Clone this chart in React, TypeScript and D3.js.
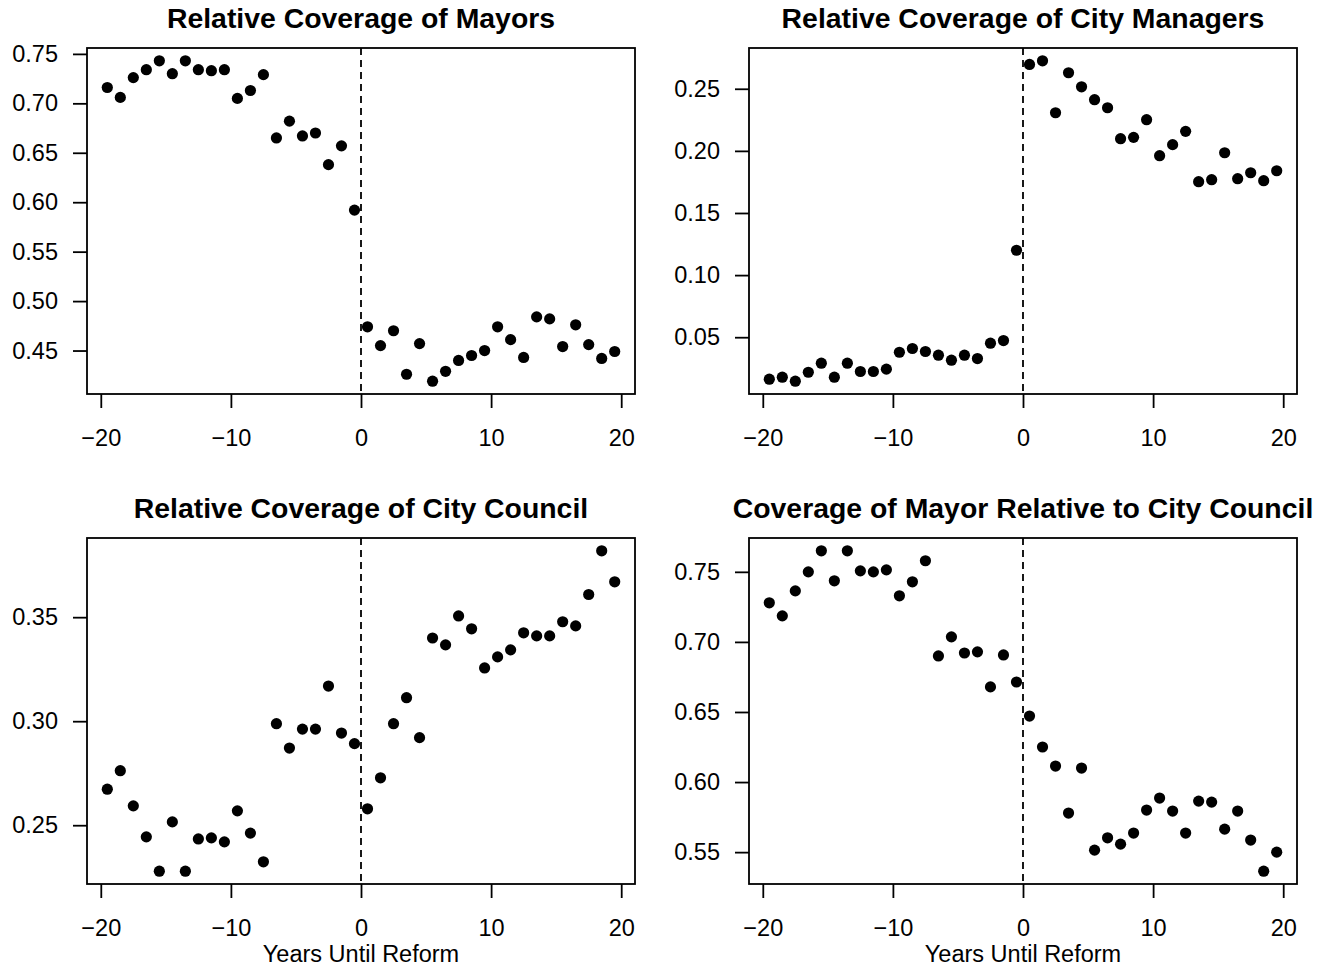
import { useEffect, useRef } from 'react'
import * as d3 from 'd3'

// years relative to the reform, one point per year (mid-year)
const years = [
  -19.5, -18.5, -17.5, -16.5, -15.5, -14.5, -13.5, -12.5, -11.5, -10.5,
  -9.5, -8.5, -7.5, -6.5, -5.5, -4.5, -3.5, -2.5, -1.5, -0.5,
  0.5, 1.5, 2.5, 3.5, 4.5, 5.5, 6.5, 7.5, 8.5, 9.5,
  10.5, 11.5, 12.5, 13.5, 14.5, 15.5, 16.5, 17.5, 18.5, 19.5,
]

const mayorValues = [
  0.716, 0.706, 0.726, 0.734, 0.743, 0.730, 0.743, 0.734, 0.733, 0.734,
  0.705, 0.713, 0.729, 0.665, 0.682, 0.667, 0.670, 0.638, 0.657, 0.592,
  0.474, 0.455, 0.470, 0.426, 0.457, 0.419, 0.429, 0.440, 0.445, 0.450,
  0.474, 0.461, 0.443, 0.484, 0.482, 0.454, 0.476, 0.456, 0.442, 0.449,
]

const managerValues = [
  0.0162, 0.0178, 0.0146, 0.0218, 0.0291, 0.0178, 0.0291, 0.0224, 0.0224, 0.0243,
  0.0379, 0.0409, 0.0385, 0.0355, 0.0315, 0.0355, 0.0328, 0.0452, 0.0473, 0.120,
  0.2696, 0.2725, 0.2307, 0.2629, 0.2516, 0.2412, 0.2347, 0.2098, 0.2109, 0.2251,
  0.1961, 0.2050, 0.2157, 0.1752, 0.1768, 0.1985, 0.1776, 0.1824, 0.1760, 0.1840,
]

const councilValues = [
  0.2673, 0.2762, 0.2593, 0.2444, 0.2279, 0.2516, 0.2279, 0.2434, 0.2439, 0.2420,
  0.2569, 0.2462, 0.2324, 0.2988, 0.2871, 0.2962, 0.2962, 0.3169, 0.2943, 0.2892,
  0.2579, 0.2728, 0.2988, 0.3113, 0.2921, 0.3400, 0.3367, 0.3506, 0.3444, 0.3256,
  0.3309, 0.3343, 0.3425, 0.3410, 0.3410, 0.3478, 0.3458, 0.3609, 0.3819, 0.3670,
]

const mayorVsCouncilValues = [
  0.7279, 0.7186, 0.7364, 0.7500, 0.7650, 0.7436, 0.7650, 0.7507, 0.7500, 0.7514,
  0.7329, 0.7429, 0.7579, 0.6900, 0.7036, 0.6921, 0.6929, 0.6679, 0.6907, 0.6714,
  0.6471, 0.6250, 0.6114, 0.5779, 0.6100, 0.5514, 0.5602, 0.5557, 0.5636, 0.5800,
  0.5886, 0.5793, 0.5636, 0.5864, 0.5857, 0.5664, 0.5793, 0.5586, 0.5364, 0.5500,
]

const xTicks = [-20, -10, 0, 10, 20]
const mayorTicks = [0.45, 0.5, 0.55, 0.6, 0.65, 0.7, 0.75]
const managerTicks = [0.05, 0.1, 0.15, 0.2, 0.25]
const councilTicks = [0.25, 0.3, 0.35]
const mayorVsCouncilTicks = [0.55, 0.6, 0.65, 0.7, 0.75]

const xLabel = 'Years Until Reform'

const WIDTH = 1337
const HEIGHT = 971
const FONT = '"Liberation Sans", Arial, Helvetica, sans-serif'
const LW = 1.8
const LABEL_SIZE = 23.5
const TITLE_SIZE = 28.4

// R-style axis range: data range widened by 4% on each side
function padRange(ext: [number, number]): [number, number] {
  const d = (ext[1] - ext[0]) * 0.04
  return [ext[0] - d, ext[1] + d]
}

interface Panel {
  title: string
  values: number[]
  yTicks: number[]
  x0: number
  x1: number
  y0: number
  y1: number
  xLabel?: string
}

const panels: Panel[] = [
  { title: 'Relative Coverage of Mayors', values: mayorValues, yTicks: mayorTicks, x0: 87, x1: 635, y0: 48, y1: 394 },
  { title: 'Relative Coverage of City Managers', values: managerValues, yTicks: managerTicks, x0: 749, x1: 1297, y0: 48, y1: 394 },
  { title: 'Relative Coverage of City Council', values: councilValues, yTicks: councilTicks, x0: 87, x1: 635, y0: 538, y1: 884, xLabel },
  { title: 'Coverage of Mayor Relative to City Council', values: mayorVsCouncilValues, yTicks: mayorVsCouncilTicks, x0: 749, x1: 1297, y0: 538, y1: 884, xLabel },
]

export default function App() {
  const svgRef = useRef<SVGSVGElement>(null)

  useEffect(() => {
    document.body.style.margin = '0'
    if (!svgRef.current) return
    const svg = d3.select(svgRef.current)
    svg.selectAll('*').remove()

    svg.append('rect').attr('width', WIDTH).attr('height', HEIGHT).attr('fill', '#fff')

    panels.forEach((p) => {
      const x = d3.scaleLinear()
        .domain(padRange(d3.extent(years) as [number, number]))
        .range([p.x0, p.x1])
      const y = d3.scaleLinear()
        .domain(padRange(d3.extent(p.values) as [number, number]))
        .range([p.y1, p.y0])

      const g = svg.append('g')

      // x axis
      const xAxis = g.append('g')
        .attr('transform', `translate(0,${p.y1})`)
        .call(d3.axisBottom(x).tickValues(xTicks).tickSize(14).tickPadding(21).tickSizeOuter(0).tickFormat(d3.format('d') as any))
      xAxis.select('.domain').remove()

      // y axis
      const yAxis = g.append('g')
        .attr('transform', `translate(${p.x0},0)`)
        .call(d3.axisLeft(y).tickValues(p.yTicks).tickSize(14).tickPadding(15).tickSizeOuter(0).tickFormat(d3.format('.2f') as any))
      yAxis.select('.domain').remove()

      g.selectAll('.tick line').attr('stroke', '#000').attr('stroke-width', LW)
      g.selectAll('.tick text')
        .attr('fill', '#000')
        .style('font-family', FONT)
        .style('font-size', `${LABEL_SIZE}px`)

      // reform line
      g.append('line')
        .attr('x1', x(0)).attr('x2', x(0))
        .attr('y1', p.y0).attr('y2', p.y1)
        .attr('stroke', '#000')
        .attr('stroke-width', LW)
        .attr('stroke-dasharray', '7,5')

      // points
      g.append('g')
        .selectAll('circle')
        .data(years.map((yr, i) => [yr, p.values[i]]))
        .join('circle')
        .attr('cx', (d) => x(d[0]))
        .attr('cy', (d) => y(d[1]))
        .attr('r', 5.6)
        .attr('fill', '#000')

      // box
      g.append('rect')
        .attr('x', p.x0).attr('y', p.y0)
        .attr('width', p.x1 - p.x0).attr('height', p.y1 - p.y0)
        .attr('fill', 'none')
        .attr('stroke', '#000')
        .attr('stroke-width', LW)

      // title
      g.append('text')
        .attr('x', (p.x0 + p.x1) / 2)
        .attr('y', p.y0 - 20)
        .attr('text-anchor', 'middle')
        .style('font-family', FONT)
        .style('font-size', `${TITLE_SIZE}px`)
        .style('font-weight', 'bold')
        .text(p.title)

      if (p.xLabel) {
        g.append('text')
          .attr('x', (p.x0 + p.x1) / 2)
          .attr('y', p.y1 + 78)
          .attr('text-anchor', 'middle')
          .style('font-family', FONT)
          .style('font-size', `${LABEL_SIZE}px`)
          .text(p.xLabel)
      }
    })
  }, [])

  return (
    <svg
      ref={svgRef}
      width={WIDTH}
      height={HEIGHT}
      style={{ display: 'block', position: 'absolute', left: 0, top: 0 }}
    />
  )
}
